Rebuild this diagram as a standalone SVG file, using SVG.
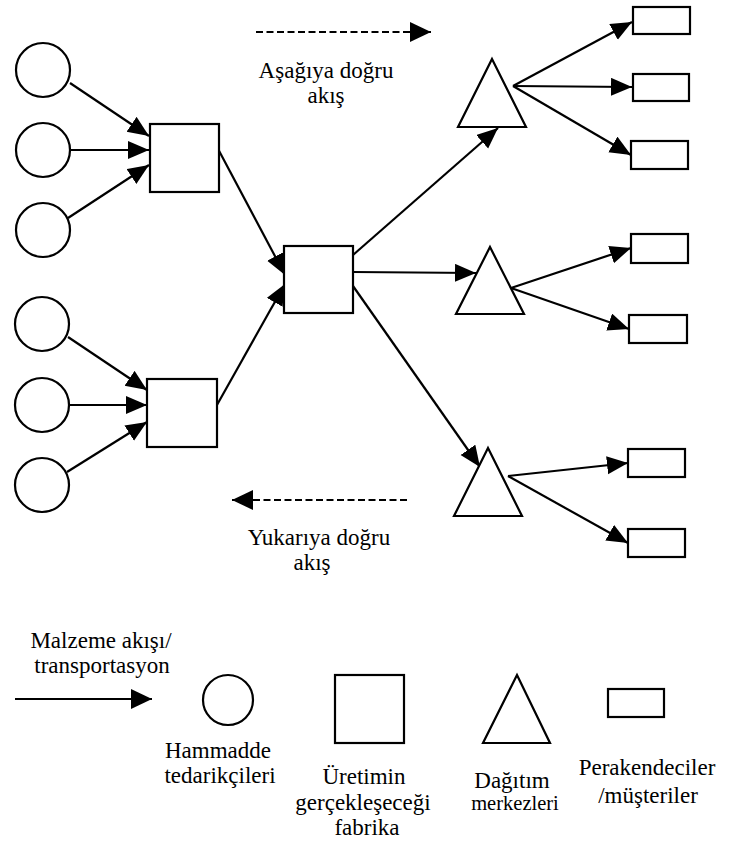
<svg xmlns="http://www.w3.org/2000/svg" width="739" height="844" viewBox="0 0 739 844">
<style>
.n{fill:#fff;stroke:#000;stroke-width:2.2}
.c{fill:none;stroke:#000;stroke-width:2.2}
.d{fill:none;stroke:#000;stroke-width:2.2;stroke-dasharray:7 3.5}
text{font-family:"Liberation Serif","Times New Roman",serif;font-size:23px;fill:#000;text-anchor:middle}
.s{font-size:20.5px}
</style>
<defs>
<marker id="ah" markerUnits="userSpaceOnUse" markerWidth="24" markerHeight="20" refX="21" refY="9" orient="auto">
<path d="M0,0 L21,9 L0,18 z" fill="#000"/>
</marker>
<marker id="ahb" markerUnits="userSpaceOnUse" markerWidth="24" markerHeight="22" refX="21" refY="10" orient="auto">
<path d="M0,0 L21,10 L0,20 z" fill="#000"/>
</marker>
</defs>
<rect width="739" height="844" fill="#fff"/>
<g id="connectors">
<line class="c" x1="70" y1="83" x2="149" y2="136" marker-end="url(#ah)"/>
<line class="c" x1="71" y1="150" x2="149" y2="150" marker-end="url(#ah)"/>
<line class="c" x1="68" y1="218" x2="149" y2="165" marker-end="url(#ah)"/>
<line class="c" x1="68" y1="337" x2="147" y2="390" marker-end="url(#ah)"/>
<line class="c" x1="69" y1="405" x2="147" y2="405" marker-end="url(#ah)"/>
<line class="c" x1="67" y1="472" x2="147" y2="422" marker-end="url(#ah)"/>
<line class="c" x1="217" y1="147" x2="285" y2="275" marker-end="url(#ah)"/>
<line class="c" x1="213" y1="412" x2="285" y2="284" marker-end="url(#ah)"/>
<line class="c" x1="353" y1="255" x2="498" y2="128" marker-end="url(#ah)"/>
<line class="c" x1="353" y1="272" x2="476" y2="273" marker-end="url(#ah)"/>
<line class="c" x1="353" y1="286" x2="480" y2="467" marker-end="url(#ah)"/>
<line class="c" x1="513" y1="86" x2="632" y2="22" marker-end="url(#ah)"/>
<line class="c" x1="513" y1="86" x2="632" y2="87" marker-end="url(#ah)"/>
<line class="c" x1="513" y1="86" x2="631" y2="155" marker-end="url(#ah)"/>
<line class="c" x1="511" y1="288" x2="631" y2="248" marker-end="url(#ah)"/>
<line class="c" x1="511" y1="288" x2="629" y2="329" marker-end="url(#ah)"/>
<line class="c" x1="508" y1="476" x2="628" y2="463" marker-end="url(#ah)"/>
<line class="c" x1="508" y1="476" x2="628" y2="543" marker-end="url(#ah)"/>
<line class="d" x1="256" y1="32" x2="431" y2="32" marker-end="url(#ahb)"/>
<line class="d" x1="407" y1="500" x2="232" y2="500" marker-end="url(#ahb)"/>
<line class="c" x1="15" y1="699" x2="152" y2="699" marker-end="url(#ahb)"/>
</g>
<g id="supplier1"><circle class="n" cx="43" cy="70" r="27"/></g>
<g id="supplier2"><circle class="n" cx="43" cy="150" r="27"/></g>
<g id="supplier3"><circle class="n" cx="43" cy="230" r="27"/></g>
<g id="supplier4"><circle class="n" cx="42" cy="324" r="27"/></g>
<g id="supplier5"><circle class="n" cx="42" cy="405" r="27"/></g>
<g id="supplier6"><circle class="n" cx="42" cy="485" r="27"/></g>
<g id="factory1"><rect class="n" x="150" y="124" width="69" height="68"/></g>
<g id="factory2"><rect class="n" x="147" y="379" width="70" height="68"/></g>
<g id="factoryMain"><rect class="n" x="284" y="246" width="69" height="67"/></g>
<g id="dc1"><polygon class="n" points="492,59 526,127 458,127"/></g>
<g id="dc2"><polygon class="n" points="490,247 524,314 456,314"/></g>
<g id="dc3"><polygon class="n" points="488,448 522,516 454,516"/></g>
<g id="retail1"><rect class="n" x="633" y="7" width="57" height="27"/></g>
<g id="retail2"><rect class="n" x="633" y="74" width="56" height="27"/></g>
<g id="retail3"><rect class="n" x="631" y="141" width="57" height="28"/></g>
<g id="retail4"><rect class="n" x="631" y="234" width="57" height="29"/></g>
<g id="retail5"><rect class="n" x="629" y="315" width="58" height="28"/></g>
<g id="retail6"><rect class="n" x="628" y="449" width="57" height="28"/></g>
<g id="retail7"><rect class="n" x="628" y="529" width="57" height="28"/></g>
<g id="labels">
<text x="326" y="78">Aşağıya doğru</text>
<text x="326" y="103">akış</text>
<text x="319" y="545">Yukarıya doğru</text>
<text x="312" y="570">akış</text>
</g>
<g id="legend">
<text x="101" y="648">Malzeme akışı/</text>
<text x="102" y="673">transportasyon</text>
<circle class="n" cx="228" cy="700" r="25"/>
<rect class="n" x="335" y="675" width="69" height="68"/>
<polygon class="n" points="517,675 550,743 483,743"/>
<rect class="n" x="608" y="689" width="56" height="28"/>
<text x="218" y="758">Hammadde</text>
<text x="220" y="783">tedarikçileri</text>
<text x="364" y="784">Üretimin</text>
<text x="363" y="810">gerçekleşeceği</text>
<text x="367" y="835">fabrika</text>
<text x="512" y="788">Dağıtım</text>
<text class="s" x="515" y="810">merkezleri</text>
<text x="647" y="775">Perakendeciler</text>
<text x="648" y="803">/müşteriler</text>
</g>
</svg>
